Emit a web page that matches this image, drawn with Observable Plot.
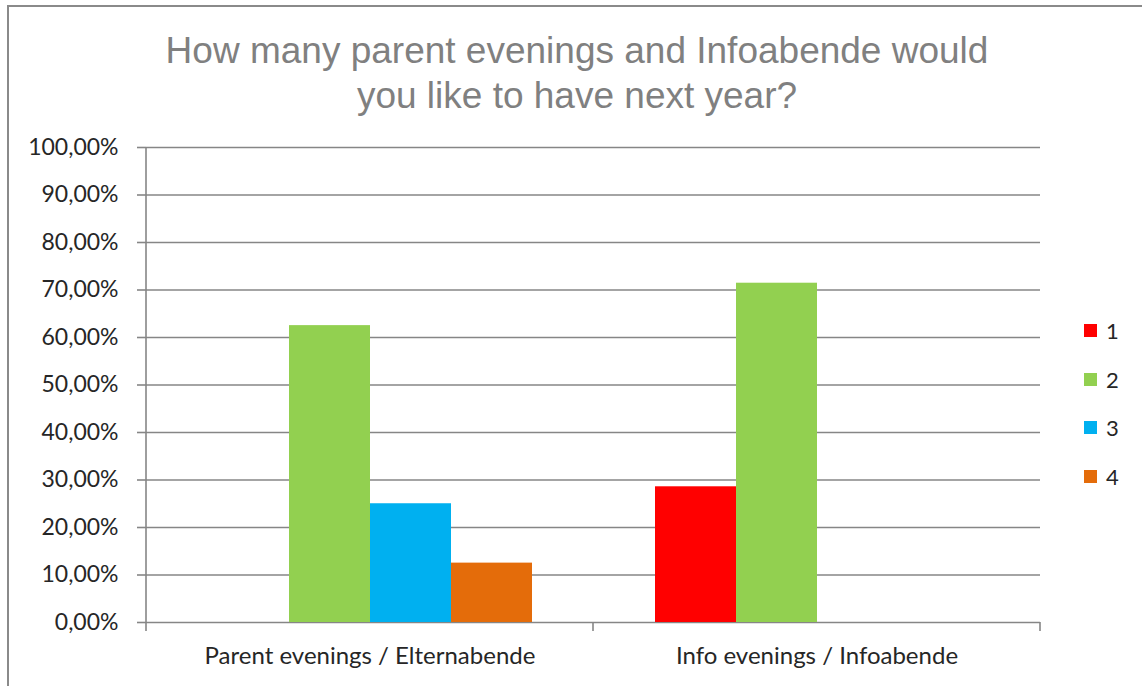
<!DOCTYPE html>
<html><head><meta charset="utf-8">
<script src="https://cdn.jsdelivr.net/npm/d3@7"></script>
<script src="https://cdn.jsdelivr.net/npm/@observablehq/plot@0.6"></script>
<style>
body{margin:0;background:#fff;}
#wrap{position:relative;width:1142px;height:686px;overflow:hidden;font-family:Lato,"Open Sans",sans-serif;}
#border{position:absolute;left:7px;top:5px;width:1200px;height:800px;border:2px solid #8a8a8a;}
#title{position:absolute;left:0;top:28px;width:1154px;text-align:center;font-family:"Liberation Sans",Arial,sans-serif;font-size:37px;line-height:45px;color:#808080;}
#chart{position:absolute;left:0;top:0;}
#legend{position:absolute;left:1084px;top:317px;font-size:22px;color:#262626;}
#legend .row{height:48.5px;display:flex;align-items:flex-start;}
#legend .sw{width:13px;height:13px;margin-top:7px;margin-right:9px;}
</style></head>
<body>
<div id="wrap">
  <div id="border"></div>
  <div id="chart"></div>
  <div id="title">How many parent evenings and Infoabende would<br>you like to have next year?</div>
  <div id="legend"></div>
</div>
<script>
const categories = ["Parent evenings / Elternabende", "Info evenings / Infoabende"];
const series = ["1", "2", "3", "4"];
const parentValues = [0, 62.5, 25, 12.5];
const infoValues = [28.57, 71.43, 0, 0];
const colors = ["#FF0000", "#92D050", "#00B0F0", "#E46C0A"];
const yTicks = [0, 10, 20, 30, 40, 50, 60, 70, 80, 90, 100];

const rows = [];
[parentValues, infoValues].forEach((vals, i) => {
  vals.forEach((v, j) => rows.push({cat: categories[i], series: series[j], value: v}));
});
const fmt = d => d.toFixed(2).replace(".", ",") + "%";
const gray = "#868686";

const plot = Plot.plot({
  width: 1142, height: 686,
  marginTop: 147, marginBottom: 64, marginLeft: 146, marginRight: 102,
  style: {background: "transparent", fontFamily: "Lato, 'Open Sans', sans-serif", color: "#262626"},
  fx: {domain: categories, padding: 0, label: null, axis: null},
  x: {domain: series, paddingInner: 0, paddingOuter: 0.742, axis: null},
  y: {domain: [0, 100], label: null, axis: null},
  color: {domain: series, range: colors},
  marks: [
    Plot.gridY(yTicks, {stroke: gray, strokeOpacity: 1, strokeWidth: 1.6}),
    Plot.barY(rows, {fx: "cat", x: "series", y: "value", fill: "series", insetLeft: 0, insetRight: 0}),
    Plot.axisY(yTicks, {anchor: "left", tickSize: 9, tickPadding: 19, tickFormat: fmt, fontSize: 23, stroke: gray, strokeWidth: 1.6, label: null}),
    Plot.axisFx({anchor: "bottom", tickSize: 0, tickPadding: 24, fontSize: 24, label: null})
  ]
});
document.getElementById("chart").appendChild(plot);

// axis lines and category boundary ticks from the library's scales
const fx = plot.scale("fx"), y = plot.scale("y");
const svg = d3.select(plot);
const g = svg.append("g").attr("stroke", gray).attr("stroke-width", 1.6);
const x0 = fx.apply(categories[0]);
g.append("line").attr("x1", x0).attr("x2", x0).attr("y1", y.apply(100)).attr("y2", y.apply(0));
const bounds = [];
categories.forEach(c => { bounds.push(fx.apply(c)); bounds.push(fx.apply(c) + fx.bandwidth); });
[...new Set(bounds.map(b => Math.round(b * 10) / 10))].forEach(b => {
  g.append("line").attr("x1", b).attr("x2", b).attr("y1", y.apply(0)).attr("y2", y.apply(0) + 9);
});

const legend = d3.select("#legend");
series.forEach((s, i) => {
  const r = legend.append("div").attr("class", "row");
  r.append("div").attr("class", "sw").style("background", colors[i]);
  r.append("div").text(s);
});
</script>
</body></html>
